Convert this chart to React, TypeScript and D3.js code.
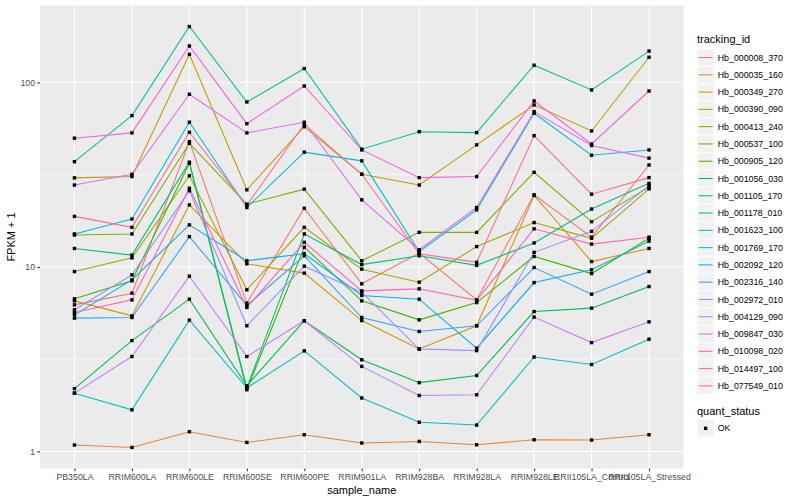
import * as d3 from 'd3';
import { useEffect, useRef } from 'react';

// x categories
const samples = [
  'PB350LA', 'RRIM600LA', 'RRIM600LE', 'RRIM600SE', 'RRIM600PE', 'RRIM901LA',
  'RRIM928BA', 'RRIM928LA', 'RRIM928LE', 'RRII105LA_Control', 'RRII105LA_Stressed',
];

// FPKM + 1 per sample, one array per tracking id
const hb_000008_370 = [6.23, 7.21, 47.8, 6.37, 20.8, 8.1, 11.9, 6.63, 24.6, 14.5, 35.7];
const hb_000035_160 = [1.083, 1.051, 1.279, 1.119, 1.232, 1.111, 1.133, 1.087, 1.157, 1.153, 1.232];
const hb_000349_270 = [6.55, 5.43, 21.7, 10.4, 9.26, 5.12, 3.59, 4.8, 24.4, 10.7, 12.6];
const hb_000390_090 = [30.4, 30.9, 142, 26.2, 57.6, 31.8, 27.8, 45.9, 75.5, 54.6, 137];
const hb_000413_240 = [9.44, 11.2, 31.2, 7.52, 16.4, 9.73, 8.27, 12.9, 17.4, 14.3, 26.5];
const hb_000537_100 = [14.9, 15.1, 46.8, 21.9, 26.4, 10.8, 15.4, 15.4, 32.6, 17.6, 27.1];
const hb_000905_120 = [6.72, 8.41, 36.5, 2.16, 12.8, 6.55, 5.17, 6.41, 11.4, 9.21, 14.3];
const hb_001056_030 = [2.19, 3.99, 6.69, 2.27, 5.11, 3.14, 2.36, 2.58, 5.73, 5.98, 7.83];
const hb_001105_170 = [12.6, 11.6, 37.0, 2.21, 15.1, 10.3, 11.5, 10.2, 13.5, 20.6, 28.4];
const hb_001178_010 = [37.2, 66.1, 201, 78.4, 119, 43.5, 54.1, 53.5, 124, 91.1, 148];
const hb_001623_100 = [2.07, 1.68, 5.15, 2.21, 3.51, 1.95, 1.44, 1.39, 3.25, 2.96, 4.06];
const hb_001769_170 = [15.1, 18.2, 60.9, 21.0, 41.9, 37.6, 12.1, 20.4, 68.1, 40.3, 43.1];
const hb_002092_120 = [5.5, 8.51, 16.9, 10.8, 11.8, 7.0, 6.69, 3.63, 8.23, 9.65, 13.8];
const hb_002316_140 = [5.28, 5.32, 14.6, 6.19, 11.5, 5.32, 4.47, 4.8, 9.93, 7.12, 9.44];
const hb_002972_010 = [5.86, 9.06, 25.9, 4.8, 10.1, 7.3, 3.59, 3.52, 12.0, 15.6, 27.6];
const hb_004129_090 = [2.07, 3.27, 8.91, 3.27, 5.11, 2.89, 2.01, 2.03, 5.35, 3.89, 5.04];
const hb_009847_030 = [27.8, 31.8, 86.3, 53.3, 60.9, 23.1, 12.4, 21.0, 69.5, 45.5, 38.9];
const hb_010098_020 = [49.9, 53.3, 157.7, 59.8, 95.7, 43.1, 30.5, 30.9, 79.4, 46.4, 89.9];
const hb_014497_100 = [5.66, 6.63, 26.7, 6.03, 13.6, 7.42, 7.61, 6.59, 16.1, 13.3, 14.5];
const hb_077549_010 = [18.8, 16.4, 53.7, 21.6, 59.4, 31.8, 11.8, 10.6, 51.5, 24.8, 30.5];

const trackingIds = [
  'Hb_000008_370', 'Hb_000035_160', 'Hb_000349_270', 'Hb_000390_090', 'Hb_000413_240',
  'Hb_000537_100', 'Hb_000905_120', 'Hb_001056_030', 'Hb_001105_170', 'Hb_001178_010',
  'Hb_001623_100', 'Hb_001769_170', 'Hb_002092_120', 'Hb_002316_140', 'Hb_002972_010',
  'Hb_004129_090', 'Hb_009847_030', 'Hb_010098_020', 'Hb_014497_100', 'Hb_077549_010',
];
const seriesValues = [
  hb_000008_370, hb_000035_160, hb_000349_270, hb_000390_090, hb_000413_240,
  hb_000537_100, hb_000905_120, hb_001056_030, hb_001105_170, hb_001178_010,
  hb_001623_100, hb_001769_170, hb_002092_120, hb_002316_140, hb_002972_010,
  hb_004129_090, hb_009847_030, hb_010098_020, hb_014497_100, hb_077549_010,
];
const quantStatus = ['OK'];

const yTicks = [1, 10, 100];
const yTickLabels = ['1', '10', '100'];
const yMinorTicks = [Math.sqrt(10), Math.sqrt(1000)];

// ggplot hue palette, 20 levels
const palette = [
  '#F8766D', '#EA8331', '#D89000', '#C09B00', '#A3A500', '#7CAE00', '#39B600',
  '#00BB4E', '#00BF7D', '#00C1A3', '#00BFC4', '#00BAE0', '#00B0F6', '#35A2FF',
  '#9590FF', '#C77CFF', '#E76BF3', '#FA62DB', '#FF62BC', '#FF6C91',
];

const FONT = '"Liberation Sans", Arial, Helvetica, sans-serif';

const Chart = () => {
  const ref = useRef<SVGSVGElement>(null);

  useEffect(() => {
    const svg = d3.select(ref.current);
    svg.selectAll('*').remove();

    const panel = { left: 40, right: 683.5, top: 5.5, bottom: 468.5 };

    const x = d3.scalePoint<string>().domain(samples).range([panel.left, panel.right]).padding(0.6);
    const all = seriesValues.flat();
    const lo = Math.log10(d3.min(all) as number);
    const hi = Math.log10(d3.max(all) as number);
    const pad = (hi - lo) * 0.05;
    const y = d3.scaleLog().domain([10 ** (lo - pad), 10 ** (hi + pad)]).range([panel.bottom, panel.top]);

    svg.append('rect')
      .attr('width', 800).attr('height', 500).attr('fill', '#ffffff');

    svg.append('rect')
      .attr('x', panel.left).attr('y', panel.top)
      .attr('width', panel.right - panel.left).attr('height', panel.bottom - panel.top)
      .attr('fill', '#EBEBEB');

    const grid = svg.append('g');
    grid.selectAll('line.minor')
      .data(yMinorTicks)
      .enter().append('line')
      .attr('x1', panel.left).attr('x2', panel.right)
      .attr('y1', d => y(d)).attr('y2', d => y(d))
      .attr('stroke', '#fff').attr('stroke-width', 0.55);
    grid.selectAll('line.major')
      .data(yTicks)
      .enter().append('line')
      .attr('x1', panel.left).attr('x2', panel.right)
      .attr('y1', d => y(d)).attr('y2', d => y(d))
      .attr('stroke', '#fff').attr('stroke-width', 1.1);
    grid.selectAll('line.vx')
      .data(samples)
      .enter().append('line')
      .attr('x1', d => x(d)!).attr('x2', d => x(d)!)
      .attr('y1', panel.top).attr('y2', panel.bottom)
      .attr('stroke', '#fff').attr('stroke-width', 1.1);

    const line = d3.line<number>()
      .x((_, i) => x(samples[i])!)
      .y(d => y(d));

    svg.append('g').selectAll('path')
      .data(seriesValues)
      .enter().append('path')
      .attr('d', d => line(d))
      .attr('fill', 'none')
      .attr('stroke', (_, i) => palette[i])
      .attr('stroke-width', 1.07);

    const pts = seriesValues.flatMap(vals => vals.map((v, i) => ({ s: samples[i], v })));
    svg.append('g').selectAll('rect')
      .data(pts)
      .enter().append('rect')
      .attr('x', d => x(d.s)! - 1.7)
      .attr('y', d => y(d.v) - 1.7)
      .attr('width', 3.4).attr('height', 3.4)
      .attr('fill', '#000');

    // axes
    const yAxis = svg.append('g')
      .attr('transform', `translate(${panel.left},0)`)
      .call(d3.axisLeft(y).tickValues(yTicks).tickFormat((_, i) => yTickLabels[i]).tickSize(2.75).tickPadding(2.2));
    const xAxis = svg.append('g')
      .attr('transform', `translate(0,${panel.bottom})`)
      .call(d3.axisBottom(x).tickSize(2.75).tickPadding(2.2));
    [yAxis, xAxis].forEach(g => {
      g.select('.domain').remove();
      g.selectAll('.tick line').attr('stroke', '#333333').attr('stroke-width', 1.07);
      g.selectAll('.tick text').attr('fill', '#4D4D4D').style('font-family', FONT).style('font-size', '8.8px');
      g.attr('font-family', null).attr('font-size', null);
    });

    svg.append('text')
      .attr('x', (panel.left + panel.right) / 2).attr('y', 494)
      .attr('text-anchor', 'middle')
      .style('font-family', FONT).style('font-size', '11px')
      .text('sample_name');
    svg.append('text')
      .attr('transform', `translate(15,${(panel.top + panel.bottom) / 2}) rotate(-90)`)
      .attr('text-anchor', 'middle')
      .style('font-family', FONT).style('font-size', '11px')
      .text('FPKM + 1');

    // legend
    const lx = 697;
    const key = 17.28;
    const legend = svg.append('g');
    legend.append('text')
      .attr('x', lx).attr('y', 43)
      .style('font-family', FONT).style('font-size', '11px')
      .text('tracking_id');
    const items = legend.selectAll('g.item')
      .data(trackingIds)
      .enter().append('g')
      .attr('transform', (_, i) => `translate(${lx},${48.9 + i * key})`);
    items.append('rect')
      .attr('width', key).attr('height', key)
      .attr('fill', '#F2F2F2').attr('stroke', '#fff').attr('stroke-width', 1);
    items.append('line')
      .attr('x1', 1.7).attr('x2', key - 1.7)
      .attr('y1', key / 2).attr('y2', key / 2)
      .attr('stroke', (_, i) => palette[i]).attr('stroke-width', 1.07);
    items.append('text')
      .attr('x', key + 3.5).attr('y', key / 2).attr('dy', '0.35em')
      .style('font-family', FONT).style('font-size', '8.8px')
      .text(d => d);

    legend.append('text')
      .attr('x', lx).attr('y', 414.5)
      .style('font-family', FONT).style('font-size', '11px')
      .text('quant_status');
    const ok = legend.selectAll('g.ok')
      .data(quantStatus)
      .enter().append('g')
      .attr('transform', `translate(${lx},${419.7})`);
    ok.append('rect')
      .attr('width', key).attr('height', key)
      .attr('fill', '#F2F2F2').attr('stroke', '#fff').attr('stroke-width', 1);
    ok.append('rect')
      .attr('x', key / 2 - 1.7).attr('y', key / 2 - 1.7)
      .attr('width', 3.4).attr('height', 3.4).attr('fill', '#000');
    ok.append('text')
      .attr('x', key + 3.5).attr('y', key / 2).attr('dy', '0.35em')
      .style('font-family', FONT).style('font-size', '8.8px')
      .text(d => d);
  }, []);

  return (
    <svg ref={ref} width={800} height={500}
      style={{ position: 'absolute', left: 0, top: 0, display: 'block' }} />
  );
};

export default function App() {
  return <Chart />;
}
